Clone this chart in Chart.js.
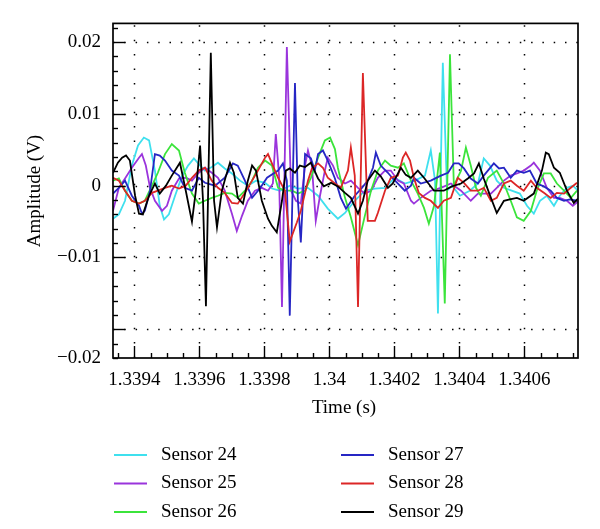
<!DOCTYPE html>
<html>
<head>
<meta charset="utf-8">
<script src="https://cdn.jsdelivr.net/npm/chart.js@4.4.1/dist/chart.umd.min.js"></script>
<style>
  html, body { margin: 0; padding: 0; background: #fff; }
  canvas { display: block; }
</style>
</head>
<body>
<canvas id="chart" width="600" height="529"></canvas>
<script>
// [time (s), amplitude (V)] pairs
const sensor24 = [
  [1.339334, -0.0046], [1.339352, -0.0040], [1.339371, -0.0021], [1.339392, 0.0028], [1.339411, 0.0056],
  [1.339429, 0.0067], [1.339445, 0.0063], [1.339463, 0.0021], [1.339478, -0.0028], [1.339491, -0.0047],
  [1.339506, -0.0040], [1.339525, -0.0014], [1.339546, 0.0013], [1.339565, 0.0028], [1.339583, 0.0038],
  [1.339602, 0.0028], [1.339617, 0.0021], [1.339638, 0.0026], [1.339657, 0.0032], [1.339678, 0.0024],
  [1.339700, 0.0017], [1.339725, 0.0007], [1.339749, 0.0000], [1.339774, 0.0007], [1.339802, 0.0004],
  [1.339823, -0.0004], [1.339848, -0.0007], [1.339878, 0.0000], [1.339903, -0.0004], [1.339934, -0.0003],
  [1.339965, -0.0014], [1.339995, -0.0032], [1.340026, -0.0046], [1.340048, -0.0038], [1.340078, -0.0021],
  [1.340109, -0.0007], [1.340140, -0.0004], [1.340171, -0.0003], [1.340201, 0.0011], [1.340232, 0.0003],
  [1.340263, 0.0007], [1.340294, 0.0014], [1.340312, 0.0049], [1.340325, 0.0007], [1.340334, -0.0178],
  [1.340349, 0.0171], [1.340362, -0.0007], [1.340377, 0.0000], [1.340402, -0.0014], [1.340432, -0.0007],
  [1.340457, 0.0003], [1.340475, 0.0038], [1.340494, 0.0028], [1.340515, 0.0007], [1.340537, -0.0003],
  [1.340561, -0.0007], [1.340586, -0.0011], [1.340608, -0.0028], [1.340629, -0.0039], [1.340648, -0.0021],
  [1.340669, -0.0014], [1.340691, -0.0028], [1.340709, -0.0014], [1.340731, -0.0003], [1.340749, 0.0000],
  [1.340765, -0.0007],
];

const sensor25 = [
  [1.339334, -0.0035], [1.339352, -0.0003], [1.339371, 0.0010], [1.339392, 0.0025], [1.339414, 0.0039],
  [1.339423, 0.0044], [1.339435, 0.0028], [1.339448, -0.0003], [1.339463, -0.0021], [1.339485, -0.0035],
  [1.339500, -0.0028], [1.339515, -0.0007], [1.339537, 0.0010], [1.339558, 0.0011], [1.339577, 0.0007],
  [1.339598, 0.0018], [1.339617, 0.0025], [1.339638, 0.0018], [1.339657, 0.0011], [1.339678, -0.0007],
  [1.339700, -0.0039], [1.339715, -0.0063], [1.339731, -0.0042], [1.339749, -0.0021], [1.339771, -0.0007],
  [1.339792, -0.0003], [1.339811, -0.0007], [1.339826, 0.0003], [1.339835, 0.0072], [1.339845, 0.0014],
  [1.339854, -0.0169], [1.339869, 0.0193], [1.339882, -0.0007], [1.339897, -0.0021], [1.339912, -0.0025],
  [1.339925, 0.0028], [1.339934, 0.0049], [1.339946, 0.0028], [1.339958, -0.0049], [1.339971, -0.0014],
  [1.339986, 0.0021], [1.339995, 0.0039], [1.340011, 0.0028], [1.340026, 0.0011], [1.340048, 0.0003],
  [1.340066, 0.0007], [1.340088, -0.0003], [1.340109, -0.0011], [1.340128, -0.0007], [1.340149, 0.0011],
  [1.340171, 0.0021], [1.340189, 0.0021], [1.340211, 0.0007], [1.340229, 0.0003], [1.340251, -0.0021],
  [1.340260, -0.0025], [1.340281, -0.0017], [1.340312, -0.0007], [1.340343, -0.0003], [1.340374, 0.0003],
  [1.340405, -0.0007], [1.340435, -0.0021], [1.340457, -0.0011], [1.340475, -0.0011], [1.340497, -0.0011],
  [1.340515, -0.0003], [1.340537, 0.0007], [1.340558, 0.0014], [1.340577, 0.0017], [1.340598, 0.0021],
  [1.340620, 0.0028], [1.340629, 0.0032], [1.340648, 0.0021], [1.340669, -0.0003], [1.340691, -0.0017],
  [1.340709, -0.0017], [1.340731, -0.0021], [1.340749, -0.0028], [1.340768, -0.0021],
];

const sensor26 = [
  [1.339334, 0.0007], [1.339352, 0.0010], [1.339371, -0.0007], [1.339392, -0.0021], [1.339414, -0.0025],
  [1.339432, -0.0021], [1.339454, 0.0000], [1.339472, 0.0018], [1.339494, 0.0044], [1.339515, 0.0058],
  [1.339537, 0.0049], [1.339555, 0.0018], [1.339577, -0.0011], [1.339598, -0.0025], [1.339617, -0.0021],
  [1.339638, -0.0017], [1.339657, -0.0014], [1.339678, -0.0010], [1.339700, -0.0011], [1.339718, -0.0017],
  [1.339740, -0.0007], [1.339762, 0.0007], [1.339780, 0.0025], [1.339802, 0.0035], [1.339823, 0.0028],
  [1.339842, -0.0003], [1.339863, -0.0007], [1.339885, -0.0007], [1.339903, -0.0011], [1.339925, -0.0007],
  [1.339943, 0.0011], [1.339965, 0.0039], [1.339986, 0.0063], [1.340002, 0.0067], [1.340017, 0.0051],
  [1.340026, 0.0025], [1.340048, -0.0017], [1.340066, -0.0044], [1.340088, -0.0083], [1.340109, -0.0042],
  [1.340128, -0.0007], [1.340149, 0.0021], [1.340171, 0.0035], [1.340189, 0.0028], [1.340211, 0.0025],
  [1.340229, 0.0031], [1.340251, 0.0007], [1.340272, -0.0011], [1.340291, -0.0031], [1.340306, -0.0053],
  [1.340322, -0.0028], [1.340340, 0.0046], [1.340355, -0.0164], [1.340371, 0.0183], [1.340383, 0.0000],
  [1.340405, 0.0021], [1.340420, 0.0053], [1.340435, 0.0028], [1.340451, -0.0003], [1.340466, -0.0014],
  [1.340488, 0.0011], [1.340515, 0.0021], [1.340537, 0.0003], [1.340558, -0.0021], [1.340577, -0.0044],
  [1.340598, -0.0049], [1.340620, -0.0035], [1.340638, -0.0007], [1.340660, 0.0017], [1.340681, 0.0017],
  [1.340700, 0.0003], [1.340722, -0.0007], [1.340743, -0.0017], [1.340762, -0.0007],
];

const sensor27 = [
  [1.339334, -0.0011], [1.339352, -0.0003], [1.339371, 0.0007], [1.339392, -0.0014], [1.339414, -0.0028],
  [1.339423, -0.0039], [1.339432, -0.0035], [1.339448, -0.0007], [1.339463, 0.0044], [1.339478, 0.0042],
  [1.339494, 0.0035], [1.339515, 0.0021], [1.339537, 0.0014], [1.339555, -0.0003], [1.339577, -0.0007],
  [1.339598, 0.0011], [1.339617, 0.0004], [1.339648, 0.0000], [1.339678, 0.0011], [1.339703, 0.0031],
  [1.339718, 0.0028], [1.339740, 0.0007], [1.339762, -0.0017], [1.339786, -0.0004], [1.339808, 0.0011],
  [1.339842, 0.0021], [1.339857, 0.0031], [1.339869, 0.0007], [1.339878, -0.0181], [1.339894, 0.0143],
  [1.339903, -0.0021], [1.339912, -0.0079], [1.339925, 0.0044], [1.339943, 0.0038], [1.339955, 0.0021],
  [1.339965, 0.0044], [1.339980, 0.0049], [1.339995, 0.0035], [1.340017, 0.0010], [1.340035, -0.0017],
  [1.340051, -0.0032], [1.340078, -0.0014], [1.340100, -0.0003], [1.340118, 0.0007], [1.340134, 0.0025],
  [1.340143, 0.0046], [1.340158, 0.0028], [1.340180, 0.0018], [1.340195, 0.0010], [1.340211, 0.0003],
  [1.340232, -0.0007], [1.340251, 0.0000], [1.340260, 0.0011], [1.340281, 0.0003], [1.340312, 0.0007],
  [1.340343, 0.0014], [1.340365, 0.0018], [1.340383, 0.0031], [1.340398, 0.0031], [1.340414, 0.0024],
  [1.340435, 0.0010], [1.340457, 0.0003], [1.340475, 0.0014], [1.340506, 0.0031], [1.340522, 0.0024],
  [1.340537, 0.0025], [1.340558, 0.0011], [1.340577, 0.0021], [1.340598, 0.0018], [1.340617, 0.0021],
  [1.340638, 0.0003], [1.340660, -0.0001], [1.340681, -0.0007], [1.340700, -0.0017], [1.340722, -0.0021],
  [1.340740, -0.0019], [1.340762, -0.0021],
];

const sensor28 = [
  [1.339334, 0.0011], [1.339352, 0.0007], [1.339371, -0.0007], [1.339392, -0.0021], [1.339414, -0.0025],
  [1.339432, -0.0021], [1.339454, -0.0010], [1.339472, -0.0007], [1.339494, -0.0003], [1.339515, 0.0000],
  [1.339537, -0.0004], [1.339558, 0.0000], [1.339577, 0.0011], [1.339598, 0.0021], [1.339617, 0.0025],
  [1.339638, 0.0007], [1.339657, -0.0003], [1.339678, -0.0010], [1.339700, -0.0024], [1.339718, -0.0025],
  [1.339740, -0.0010], [1.339762, 0.0007], [1.339780, 0.0021], [1.339802, 0.0039], [1.339811, 0.0044],
  [1.339826, 0.0028], [1.339842, 0.0011], [1.339863, -0.0007], [1.339878, -0.0078], [1.339900, -0.0051],
  [1.339912, -0.0035], [1.339934, 0.0007], [1.339946, 0.0024], [1.339965, 0.0031], [1.339980, 0.0025],
  [1.339995, 0.0011], [1.340017, 0.0003], [1.340035, -0.0003], [1.340057, 0.0021], [1.340066, 0.0053],
  [1.340078, 0.0014], [1.340088, -0.0169], [1.340103, 0.0157], [1.340118, -0.0049], [1.340140, -0.0049],
  [1.340149, -0.0038], [1.340171, -0.0007], [1.340189, 0.0011], [1.340211, 0.0014], [1.340226, 0.0039],
  [1.340235, 0.0046], [1.340248, 0.0035], [1.340260, 0.0011], [1.340275, -0.0010], [1.340294, -0.0017],
  [1.340312, -0.0021], [1.340334, -0.0031], [1.340352, -0.0021], [1.340374, -0.0017], [1.340395, 0.0011],
  [1.340414, 0.0004], [1.340435, -0.0007], [1.340457, -0.0007], [1.340475, -0.0003], [1.340497, -0.0021],
  [1.340515, -0.0017], [1.340537, 0.0003], [1.340558, 0.0007], [1.340577, 0.0000], [1.340598, -0.0007],
  [1.340620, 0.0007], [1.340638, -0.0003], [1.340660, -0.0010], [1.340681, -0.0017], [1.340700, -0.0010],
  [1.340722, -0.0011], [1.340740, -0.0004], [1.340762, 0.0004],
];

const sensor29 = [
  [1.339334, 0.0018], [1.339349, 0.0032], [1.339362, 0.0039], [1.339374, 0.0042], [1.339386, 0.0035],
  [1.339402, -0.0014], [1.339414, -0.0039], [1.339426, -0.0040], [1.339445, -0.0014], [1.339463, 0.0003],
  [1.339478, -0.0011], [1.339497, 0.0000], [1.339515, 0.0014], [1.339540, 0.0032], [1.339558, -0.0007],
  [1.339577, -0.0050], [1.339589, -0.0007], [1.339602, 0.0056], [1.339611, -0.0021], [1.339620, -0.0168],
  [1.339635, 0.0185], [1.339645, -0.0021], [1.339654, -0.0058], [1.339669, -0.0007], [1.339682, 0.0014],
  [1.339694, 0.0032], [1.339706, 0.0018], [1.339718, -0.0017], [1.339734, -0.0025], [1.339749, 0.0007],
  [1.339762, 0.0028], [1.339774, 0.0021], [1.339792, -0.0021], [1.339811, -0.0046], [1.339823, -0.0056],
  [1.339838, -0.0065], [1.339854, -0.0021], [1.339866, 0.0021], [1.339878, 0.0024], [1.339894, 0.0018],
  [1.339909, 0.0028], [1.339925, 0.0026], [1.339943, 0.0032], [1.339965, 0.0010], [1.339983, -0.0001],
  [1.340005, 0.0004], [1.340026, -0.0001], [1.340048, -0.0010], [1.340066, -0.0017], [1.340088, -0.0039],
  [1.340103, -0.0021], [1.340118, 0.0007], [1.340140, 0.0021], [1.340158, 0.0013], [1.340180, -0.0003],
  [1.340195, 0.0003], [1.340220, 0.0025], [1.340235, 0.0015], [1.340251, 0.0011], [1.340272, 0.0021],
  [1.340291, 0.0011], [1.340322, -0.0007], [1.340352, -0.0007], [1.340377, -0.0001], [1.340405, 0.0003],
  [1.340426, 0.0010], [1.340445, 0.0017], [1.340460, 0.0031], [1.340475, 0.0010], [1.340497, -0.0017],
  [1.340515, -0.0038], [1.340537, -0.0021], [1.340555, -0.0019], [1.340577, -0.0017], [1.340598, -0.0021],
  [1.340629, -0.0011], [1.340654, 0.0021], [1.340666, 0.0046], [1.340675, 0.0044], [1.340691, 0.0025],
  [1.340709, 0.0018], [1.340731, -0.0007], [1.340752, -0.0024], [1.340765, -0.0018],
];

const seriesLabels = ['Sensor 24', 'Sensor 25', 'Sensor 26', 'Sensor 27', 'Sensor 28', 'Sensor 29'];
const seriesData = [sensor24, sensor25, sensor26, sensor27, sensor28, sensor29];
const seriesColors = ['#3fe0ee', '#9a34dc', '#3be43b', '#2626c4', '#dc2626', '#000000'];

const xTicks = [1.3394, 1.3396, 1.3398, 1.34, 1.3402, 1.3404, 1.3406];
const yTicks = [-0.02, -0.01, 0, 0.01, 0.02];
const xMin = 1.339334, xMax = 1.340765;
const yMin = -0.0240, yMax = 0.0226;

const FONT = "'Liberation Serif', 'DejaVu Serif', serif";

// dotted grid, frame, inward ticks, axis titles, 2-column legend
const decor = {
  id: 'decor',
  beforeDatasetsDraw(chart) {
    const { ctx, chartArea: a, scales: { x, y } } = chart;
    ctx.save();
    ctx.strokeStyle = '#000';
    ctx.lineWidth = 1.5;
    ctx.setLineDash([1.5, 9.8]);
    yTicks.forEach((v) => {
      const py = Math.round(y.getPixelForValue(v)) + 0.5;
      ctx.beginPath(); ctx.moveTo(a.left, py); ctx.lineTo(a.right, py); ctx.stroke();
    });
    ctx.setLineDash([1.5, 12.9]);
    xTicks.forEach((v) => {
      const px = Math.round(x.getPixelForValue(v)) + 0.5;
      ctx.beginPath(); ctx.moveTo(px, a.bottom); ctx.lineTo(px, a.top); ctx.stroke();
    });
    ctx.restore();
  },
  afterDatasetsDraw(chart) {
    const { ctx, chartArea: a, scales: { x, y } } = chart;
    ctx.save();
    ctx.strokeStyle = '#000';
    ctx.lineWidth = 1.7;
    ctx.strokeRect(a.left, a.top, a.right - a.left, a.bottom - a.top);

    ctx.lineWidth = 1.4;
    for (let k = -12; k <= 11; k++) {
      const v = k * 0.002;
      if (v < yMin || v > yMax) continue;
      const py = Math.round(y.getPixelForValue(v)) + 0.5;
      const len = k % 5 === 0 ? 12 : 5;
      ctx.beginPath(); ctx.moveTo(a.left, py); ctx.lineTo(a.left + len, py); ctx.stroke();
    }
    for (let k = -1; k <= 28; k++) {
      const v = 1.3394 + k * 0.00005;
      if (v < xMin || v > xMax) continue;
      const px = Math.round(x.getPixelForValue(v)) + 0.5;
      const len = k % 4 === 0 ? 12 : 5;
      ctx.beginPath(); ctx.moveTo(px, a.bottom); ctx.lineTo(px, a.bottom - len); ctx.stroke();
    }

    ctx.fillStyle = '#000';
    ctx.font = '19px ' + FONT;
    ctx.textAlign = 'center';
    ctx.textBaseline = 'middle';
    ctx.fillText('Time (s)', 344, 408);
    ctx.save();
    ctx.translate(35, 191);
    ctx.rotate(-Math.PI / 2);
    ctx.fillText('Amplitude (V)', 0, 0);
    ctx.restore();

    ctx.textAlign = 'left';
    chart.data.datasets.forEach((ds, i) => {
      const col = Math.floor(i / 3);
      const row = i % 3;
      const lx = col === 0 ? 114 : 341;
      const ly = 455 + row * 28.5;
      ctx.strokeStyle = ds.borderColor;
      ctx.lineWidth = 2.2;
      ctx.beginPath(); ctx.moveTo(lx, ly); ctx.lineTo(lx + 33, ly); ctx.stroke();
      ctx.fillText(ds.label, lx + 47, ly);
    });
    ctx.restore();
  },
};

new Chart(document.getElementById('chart'), {
  type: 'line',
  data: {
    datasets: seriesData.map((d, i) => ({
      label: seriesLabels[i],
      data: d,
      borderColor: seriesColors[i],
      borderWidth: 1.8,
      pointRadius: 0,
      tension: 0,
      fill: false,
      order: seriesData.length - i,
    })),
  },
  options: {
    responsive: false,
    animation: false,
    devicePixelRatio: 1,
    layout: { padding: { left: 0, right: 22, top: 22, bottom: 0 } },
    plugins: { legend: { display: false }, tooltip: { enabled: false } },
    scales: {
      x: {
        type: 'linear',
        min: xMin,
        max: xMax,
        grid: { display: false, drawTicks: false },
        border: { display: false },
        afterBuildTicks: (s) => { s.ticks = xTicks.map((v) => ({ value: v })); },
        afterFit: (s) => { s.height = 171; },
        ticks: {
          autoSkip: false,
          maxRotation: 0,
          padding: 11,
          color: '#000',
          font: { family: FONT, size: 19 },
          callback: (v) => Number(v.toFixed(4)).toString(),
        },
      },
      y: {
        type: 'linear',
        min: yMin,
        max: yMax,
        grid: { display: false, drawTicks: false },
        border: { display: false },
        afterBuildTicks: (s) => { s.ticks = [yMin].concat(yTicks).map((v) => ({ value: v })); },
        afterFit: (s) => { s.width = 113; },
        ticks: {
          autoSkip: false,
          padding: 12,
          color: '#000',
          font: { family: FONT, size: 19 },
          callback: (v) => {
            if (Math.abs(v - yMin) < 1e-9) return '\u22120.02';
            if (Math.abs(v + 0.02) < 1e-9) return '';
            if (Math.abs(v) < 1e-9) return '0';
            return (v < 0 ? '\u2212' : '') + Math.abs(v).toFixed(2);
          },
        },
      },
    },
  },
  plugins: [decor],
});
</script>
</body>
</html>
